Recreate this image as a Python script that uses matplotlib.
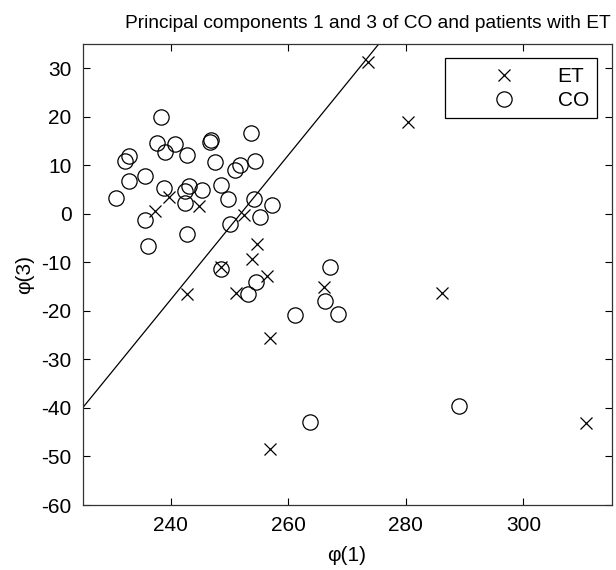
import matplotlib
matplotlib.use("Agg")
import matplotlib.pyplot as plt
import numpy as np

plt.rcParams['font.family'] = ['Liberation Sans', 'DejaVu Sans']
plt.rcParams['axes.unicode_minus'] = False

# group ET (crosses)
et_x = [237.4, 239.7, 244.8, 252.4, 273.6, 280.4, 242.7, 248.6, 251.1, 253.8,
        254.6, 256.4, 256.8, 266.1, 286.2, 256.9, 310.7]
et_y = [0.5, 3.4, 1.7, -0.3, 31.2, 19.0, -16.5, -10.9, -16.4, -9.4,
        -6.3, -12.9, -25.6, -15.0, -16.4, -48.4, -43.1]

# group CO (circles)
co_x = [230.7, 232.3, 232.9, 232.9, 235.6, 235.6, 238.4, 237.7, 239.1, 240.8,
        242.8, 238.8, 242.5, 242.4, 243.1, 245.4, 246.9, 246.7, 247.6, 248.6,
        249.7, 250.9, 251.8, 253.7, 254.4, 254.2, 255.1, 257.2, 250.0, 242.8,
        236.1, 248.6, 253.1, 254.5, 267.1, 266.3, 261.2, 268.5, 263.7, 289.1]
co_y = [3.2, 10.8, 11.9, 6.7, 7.7, -1.2, 19.9, 14.6, 12.7, 14.4,
        12.2, 5.4, 2.3, 4.7, 5.8, 4.8, 15.1, 14.7, 10.6, 6.0,
        3.0, 9.1, 10.1, 16.6, 10.8, 3.1, -0.7, 1.9, -2.2, -4.1,
        -6.6, -11.4, -16.5, -14.0, -10.9, -18.0, -20.9, -20.7, -42.8, -39.7]

# separating line
line_x = [225.0, 275.4]
line_y = [-40.0, 35.0]

x_ticks = [240, 260, 280, 300]
y_ticks = [-60, -50, -40, -30, -20, -10, 0, 10, 20, 30]

fig = plt.figure(figsize=(6.16, 5.70), dpi=100)
ax = fig.add_axes([0.134, 0.114, 0.859, 0.809])

ax.plot(et_x, et_y, 'x', color='k', markersize=9, markeredgewidth=0.9, label='ET')
ax.plot(co_x, co_y, 'o', markerfacecolor='none', markeredgecolor='k',
        markersize=11, markeredgewidth=0.9, label='CO')
ax.plot(line_x, line_y, '-', color='k', linewidth=0.9)

ax.set_xlim(225, 315)
ax.set_ylim(-60, 35)
ax.set_xticks(x_ticks)
ax.set_yticks(y_ticks)
ax.tick_params(direction='in', length=5, width=0.8, top=True, right=True,
               labelsize=15, pad=8)
for s in ax.spines.values():
    s.set_linewidth(0.9)
    s.set_color('#333333')

ax.set_xlabel('φ(1)', fontsize=15, labelpad=8)
ax.set_ylabel('φ(3)', fontsize=15, labelpad=5)

fig.text(368 / 616, 1 - 23 / 570, 'Principal components 1 and 3 of CO and patients with ET',
         ha='center', va='center', fontsize=13.8)

leg = ax.legend(loc='upper right', bbox_to_anchor=(1.0, 1.0), borderaxespad=0.7,
                fancybox=False, framealpha=1, edgecolor='k', fontsize=15,
                handlelength=4.9, handletextpad=0.1, borderpad=0.4, labelspacing=0.25)
leg.get_frame().set_linewidth(0.9)

fig.savefig('out.png', dpi=100)
